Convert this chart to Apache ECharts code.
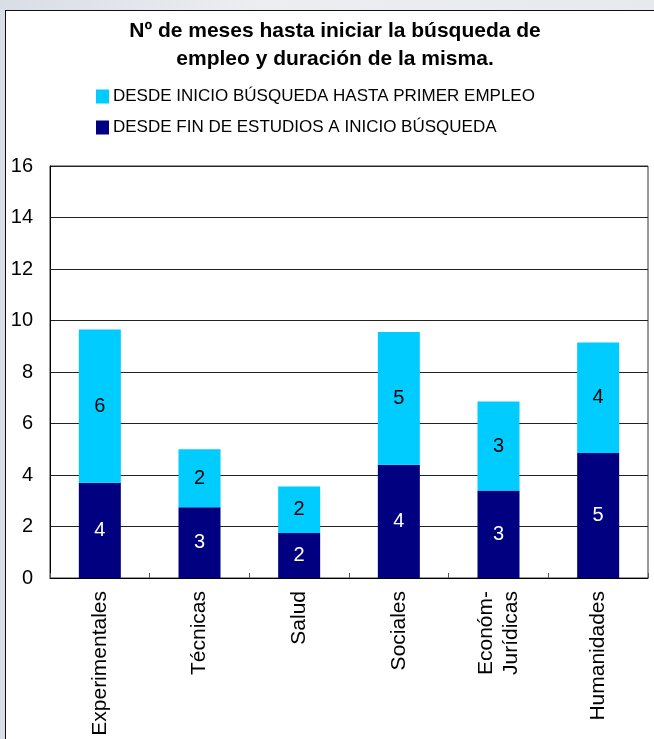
<!DOCTYPE html>
<html>
<head>
<meta charset="utf-8">
<script src="https://cdn.jsdelivr.net/npm/echarts@6/dist/echarts.min.js"></script>
<style>
  html, body { margin: 0; padding: 0; }
  body {
    width: 654px; height: 739px; position: relative; overflow: hidden;
    background: linear-gradient(90deg, #d9dde5 0%, #eceef2 40%, #e6e9ee 100%);
  }
  .frame {
    position: absolute; left: 5px; top: 10px; width: 660px; height: 740px;
    background: #fff; border-top: 1.5px solid #111; border-left: 1.5px solid #111;
  }
  #chart { position: absolute; left: 0; top: 0; width: 654px; height: 739px; }
</style>
</head>
<body>
<div class="frame"></div>
<div id="chart"></div>
<script>
// categorias (ramas de conocimiento)
const categories = ["Experimentales", "Técnicas", "Salud", "Sociales", "Económ-\nJurídicas", "Humanidades"];
// meses desde fin de estudios hasta inicio de busqueda
const desdeFinEstudios = [3.7, 2.75, 1.75, 4.4, 3.4, 4.85];
// meses desde inicio de busqueda hasta primer empleo
const desdeInicioBusqueda = [5.95, 2.25, 1.8, 5.15, 3.45, 4.3];
const yTicks = { min: 0, max: 16, interval: 2 };

const seriesNames = ["DESDE FIN DE ESTUDIOS A INICIO BÚSQUEDA", "DESDE INICIO BÚSQUEDA HASTA PRIMER EMPLEO"];
const font = "Liberation Sans, Arial, sans-serif";

const chart = echarts.init(document.getElementById("chart"));
const option = {
  backgroundColor: "transparent",
  animation: false,
  textStyle: { fontFamily: font },
  title: {
    text: "Nº de meses hasta iniciar la búsqueda de\nempleo y duración de la misma.",
    left: 335,
    textAlign: "center",
    top: 17,
    padding: 0,
    textStyle: { fontSize: 21, fontWeight: "bold", color: "#000", lineHeight: 28, fontFamily: font }
  },
  legend: {
    orient: "vertical",
    left: 96,
    top: 88,
    padding: 0,
    itemWidth: 13,
    itemHeight: 14,
    itemGap: 14,
    icon: "rect",
    data: [seriesNames[1], seriesNames[0]],
    textStyle: { fontSize: 17, color: "#000", fontFamily: font, padding: [0, 0, 0, -1] }
  },
  grid: {
    left: 50,
    right: 6,
    top: 166,
    bottom: 161,
    show: true,
    borderColor: "#333",
    borderWidth: 1
  },
  xAxis: {
    type: "category",
    data: categories,
    axisLine: { lineStyle: { color: "#000", width: 1 } },
    axisTick: { show: true, inside: true, length: 5, lineStyle: { color: "#555" } },
    axisLabel: {
      rotate: 90,
      interval: 0,
      margin: 13,
      fontSize: 21,
      color: "#000",
      lineHeight: 25,
      fontFamily: font
    }
  },
  yAxis: {
    type: "value",
    min: yTicks.min,
    max: yTicks.max,
    interval: yTicks.interval,
    axisLine: { show: true, lineStyle: { color: "#000", width: 1 } },
    axisTick: { show: false },
    axisLabel: { fontSize: 20, color: "#000", margin: 17, fontFamily: font },
    splitLine: { lineStyle: { color: "#222", width: 1 } }
  },
  series: [
    {
      name: seriesNames[0],
      type: "bar",
      stack: "meses",
      data: desdeFinEstudios,
      barWidth: 42,
      itemStyle: { color: "#000080" },
      label: {
        show: true,
        position: "inside",
        fontSize: 20,
        color: "#fff",
        fontFamily: font,
        formatter: p => Math.round(p.value)
      }
    },
    {
      name: seriesNames[1],
      type: "bar",
      stack: "meses",
      data: desdeInicioBusqueda,
      barWidth: 42,
      itemStyle: { color: "#00ccff" },
      label: {
        show: true,
        position: "inside",
        fontSize: 20,
        color: "#000",
        fontFamily: font,
        formatter: p => Math.round(p.value)
      }
    }
  ]
};
chart.setOption(option);
</script>
</body>
</html>
